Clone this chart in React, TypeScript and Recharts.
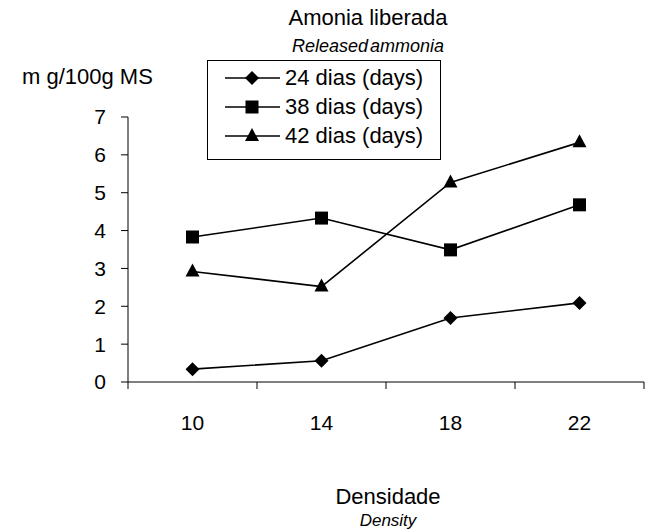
import React from 'react'
import { LineChart, Line, XAxis, YAxis, Legend } from 'recharts'

const densities = ['10', '14', '18', '22']
const dias24 = [0.34, 0.56, 1.69, 2.09]
const dias38 = [3.83, 4.33, 3.49, 4.68]
const dias42 = [2.92, 2.52, 5.27, 6.33]
const yTicks = [0, 1, 2, 3, 4, 5, 6, 7]
const xTicks = [0, 0.5, 1, 1.5, 2, 2.5, 3, 3.5, 4]

const font = '"Liberation Sans", Arial, sans-serif'

// categories sit in the middle of each band, like the old spreadsheet chart
const data = densities.map((d, i) => ({
  pos: i + 0.5,
  density: d,
  d24: dias24[i],
  d38: dias38[i],
  d42: dias42[i],
}))

type Marker = 'diamond' | 'square' | 'triangle'

function markerPath(kind: Marker, cx: number, cy: number) {
  if (kind === 'diamond') return `M${cx} ${cy - 7}L${cx + 7} ${cy}L${cx} ${cy + 7}L${cx - 7} ${cy}Z`
  if (kind === 'square') return `M${cx - 6.5} ${cy - 6.5}h13v13h-13Z`
  return `M${cx} ${cy - 8}L${cx + 7} ${cy + 5}L${cx - 7} ${cy + 5}Z`
}

const makeDot = (kind: Marker) => (props: any) => {
  const { cx, cy, index } = props
  if (cx == null || cy == null) return <g key={`${kind}-${index}`} />
  return <path key={`${kind}-${index}`} d={markerPath(kind, cx, cy)} fill="#000" />
}

const series: { key: string; name: string; kind: Marker }[] = [
  { key: 'd24', name: '24 dias (days)', kind: 'diamond' },
  { key: 'd38', name: '38 dias (days)', kind: 'square' },
  { key: 'd42', name: '42 dias (days)', kind: 'triangle' },
]

function XTick(props: any) {
  const { x, y, payload } = props
  const v = payload.value as number
  if (Number.isInteger(v)) {
    return <line x1={x} y1={y} x2={x} y2={y + 7} stroke="#000" strokeWidth={1} />
  }
  return (
    <text x={x} y={y + 40} textAnchor="middle" dominantBaseline="central" fontSize={21} fontFamily={font} fill="#000">
      {densities[Math.floor(v)]}
    </text>
  )
}

function LegendBox() {
  return (
    <div style={{ border: '1px solid #000', width: 232, height: 96, boxSizing: 'content-box', background: '#fff', paddingTop: 2 }}>
      {series.map((s) => (
        <div key={s.key} style={{ display: 'flex', alignItems: 'center', height: 29, marginLeft: 16 }}>
          <svg width={58} height={20} style={{ display: 'block' }}>
            <line x1={1} y1={10} x2={56} y2={10} stroke="#000" strokeWidth={1.6} />
            <path d={markerPath(s.kind, 28, 10)} fill="#000" />
          </svg>
          <span style={{ fontSize: 22, fontFamily: font, color: '#000', marginLeft: 3, lineHeight: 1 }}>{s.name}</span>
        </div>
      ))}
    </div>
  )
}

const textBase: React.CSSProperties = {
  position: 'absolute',
  fontFamily: font,
  color: '#000',
  lineHeight: 1,
  whiteSpace: 'nowrap',
  transform: 'translate(-50%, -50%)',
}

export default function App() {
  return (
    <div style={{ position: 'absolute', left: 0, top: 0, width: 645, height: 530, background: '#fff' }}>
      <LineChart width={645} height={530} data={data} margin={{ top: 117, right: 1, bottom: 88, left: 0 }}>
        <XAxis
          dataKey="pos"
          type="number"
          domain={[0, 4]}
          ticks={xTicks}
          interval={0}
          tick={<XTick />}
          tickLine={false}
          tickSize={0}
          tickMargin={0}
          height={60}
          axisLine={{ stroke: '#000', strokeWidth: 1 }}
        />
        <YAxis
          type="number"
          domain={[0, 7]}
          ticks={yTicks}
          interval={0}
          width={128}
          tickSize={7}
          tickMargin={15}
          tick={{ fontSize: 21, fontFamily: font, fill: '#000' }}
          tickLine={{ stroke: '#000' }}
          axisLine={{ stroke: '#000', strokeWidth: 1 }}
        />
        <Legend
          layout="horizontal"
          verticalAlign="middle"
          align="center"
          content={<LegendBox />}
          wrapperStyle={{ position: 'absolute', left: 207, top: 60, width: 'auto', height: 'auto' }}
        />
        {series.map((s) => (
          <Line
            key={s.key}
            dataKey={s.key}
            name={s.name}
            stroke="#000"
            strokeWidth={1.6}
            dot={makeDot(s.kind)}
            activeDot={false}
            isAnimationActive={false}
          />
        ))}
      </LineChart>
      <div style={{ ...textBase, left: 368, top: 18, fontSize: 22 }}>Amonia liberada</div>
      <div style={{ ...textBase, left: 368, top: 46, fontSize: 18, fontStyle: 'italic', wordSpacing: -3 }}>Released ammonia</div>
      <div style={{ ...textBase, left: 22, top: 77, fontSize: 22, transform: 'translate(0, -50%)' }}>m g/100g MS</div>
      <div style={{ ...textBase, left: 388, top: 497, fontSize: 22 }}>Densidade</div>
      <div style={{ ...textBase, left: 388, top: 520, fontSize: 17, fontStyle: 'italic' }}>Density</div>
    </div>
  )
}
